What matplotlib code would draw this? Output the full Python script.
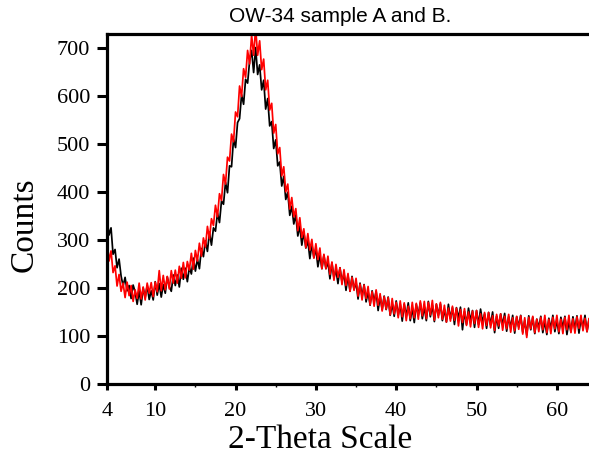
import numpy as np
import matplotlib
matplotlib.use("Agg")
import matplotlib.pyplot as plt
from matplotlib.ticker import FixedLocator

# scan: 2-theta from 4 to 64 deg, step 0.25 (one row = one degree)
two_theta_start = 4.0
two_theta_step = 0.25

sample_a = [
    345, 310, 325, 270,  # 4
    280, 242, 260, 225,
    204, 222, 194, 205,
    178, 206, 192, 166,
    194, 165, 200, 180,
    205, 176, 194, 175,  # 9
    213, 185, 209, 181,
    207, 189, 223, 203,
    193, 227, 205, 227,
    202, 241, 218, 241,
    213, 243, 229, 262,  # 14
    235, 260, 240, 282,
    265, 298, 276, 316,
    289, 325, 318, 356,
    336, 381, 374, 420,
    398, 454, 452, 510,  # 19
    492, 544, 552, 602,
    582, 634, 626, 672,
    694, 648, 700, 644,
    664, 612, 632, 572,
    594, 537, 546, 490,  # 24
    508, 454, 462, 412,
    432, 384, 399, 351,
    370, 333, 352, 308,
    329, 289, 316, 283,
    299, 261, 290, 263,  # 29
    282, 244, 268, 240,
    268, 240, 255, 219,
    252, 221, 238, 209,
    242, 213, 230, 195,
    226, 193, 224, 197,  # 34
    212, 177, 210, 182,
    207, 171, 192, 164,
    194, 171, 193, 153,
    183, 155, 183, 155,
    181, 143, 167, 141,  # 39
    173, 143, 166, 131,
    166, 141, 169, 132,
    158, 128, 166, 143,
    169, 136, 160, 132,
    172, 140, 164, 130,  # 44
    166, 143, 167, 132,
    156, 129, 166, 136,
    159, 124, 159, 137,
    160, 113, 151, 124,
    158, 131, 153, 118,  # 49
    153, 124, 156, 129,
    146, 116, 149, 123,
    150, 107, 141, 116,
    146, 123, 147, 110,
    140, 117, 143, 106,  # 54
    140, 119, 143, 108,
    132, 102, 142, 113,
    139, 105, 135, 117,
    141, 107, 131, 103,
    137, 115, 143, 109,  # 59
    133, 105, 139, 117,
    141, 103, 131, 109,
    140, 114, 142, 106,
    136, 118, 143, 109,
    134,                 # 64
]

sample_b = [
    300, 256, 277, 232,  # 4
    246, 204, 228, 193,
    210, 180, 212, 184,
    205, 172, 196, 178,
    210, 177, 202, 175,
    210, 189, 211, 182,  # 9
    212, 192, 236, 194,
    226, 196, 224, 198,
    236, 210, 237, 210,
    245, 220, 253, 221,
    255, 237, 272, 239,  # 14
    278, 256, 293, 266,
    304, 285, 328, 302,
    344, 330, 372, 348,
    396, 382, 436, 416,
    472, 464, 520, 504,  # 19
    566, 556, 620, 598,
    656, 638, 694, 666,
    726, 684, 740, 684,
    714, 654, 676, 612,
    632, 570, 584, 522,  # 24
    540, 479, 492, 433,
    452, 400, 416, 364,
    388, 348, 365, 319,
    346, 305, 323, 284,
    313, 279, 301, 262,  # 29
    292, 259, 283, 240,
    270, 240, 266, 228,
    254, 216, 249, 222,
    242, 207, 238, 205,
    230, 193, 222, 195,  # 34
    220, 183, 208, 175,
    206, 178, 203, 165,
    192, 162, 196, 164,
    188, 152, 182, 156,
    180, 144, 178, 146,  # 39
    170, 138, 173, 140,
    169, 132, 162, 136,
    170, 138, 168, 135,
    173, 142, 172, 136,
    170, 144, 174, 133,  # 44
    167, 138, 170, 135,
    164, 129, 158, 131,
    162, 133, 158, 121,
    155, 128, 157, 122,
    150, 119, 152, 126,  # 49
    153, 118, 146, 115,
    149, 122, 149, 117,
    142, 112, 145, 121,
    146, 112, 141, 115,
    145, 108, 138, 111,  # 54
    141, 114, 142, 104,
    138, 97, 139, 115,
    141, 107, 135, 109,
    139, 113, 143, 107,
    135, 105, 139, 115,  # 59
    143, 109, 135, 105,
    139, 113, 143, 107,
    136, 106, 140, 116,
    143, 111, 137, 109,
    136,                 # 64
]

x_ticks = [4, 10, 20, 30, 40, 50, 60]
x_minor = [15, 25, 35, 45, 55]
y_ticks = [0, 100, 200, 300, 400, 500, 600, 700]

two_theta = two_theta_start + two_theta_step * np.arange(len(sample_a))

fig = plt.figure(figsize=(5.89, 4.65), dpi=100)
ax = fig.add_axes([0.1817, 0.174, 1 - 0.1817, 0.7527])

ax.plot(two_theta, sample_a, color='black', linewidth=1.25)
ax.plot(two_theta, sample_b, color='red', linewidth=1.25)

ax.set_xlim(4, 64)
ax.set_ylim(0, 728)

ax.xaxis.set_major_locator(FixedLocator(x_ticks))
ax.xaxis.set_minor_locator(FixedLocator(x_minor))
ax.yaxis.set_major_locator(FixedLocator(y_ticks))
ax.set_xticklabels([str(t) for t in x_ticks], fontfamily='Liberation Serif', fontsize=16)
ax.set_yticklabels([str(t) for t in y_ticks], fontfamily='Liberation Serif', fontsize=16)

ax.spines['right'].set_visible(False)
for s in ['left', 'bottom', 'top']:
    ax.spines[s].set_linewidth(2.3)
ax.tick_params(axis='y', which='major', direction='out', length=7, width=2.2, pad=5)
ax.tick_params(axis='x', which='major', direction='out', length=4, width=2.2, pad=9)
ax.tick_params(axis='x', which='minor', direction='out', length=2, width=1)
ax.tick_params(top=False, right=False)

fig.text(340 / 589, 1 - 17 / 465, "OW-34 sample A and B.", fontfamily='Liberation Sans',
         fontsize=15, ha='center', va='center')
fig.text(24 / 589, 1 - 225 / 465, "Counts", fontfamily='Liberation Serif', fontsize=24,
         rotation=90, ha='center', va='center')
fig.text(320 / 589, 1 - 440 / 465, "2-Theta Scale", fontfamily='Liberation Serif',
         fontsize=24, ha='center', va='center')

fig.savefig("out.png", dpi=100)
